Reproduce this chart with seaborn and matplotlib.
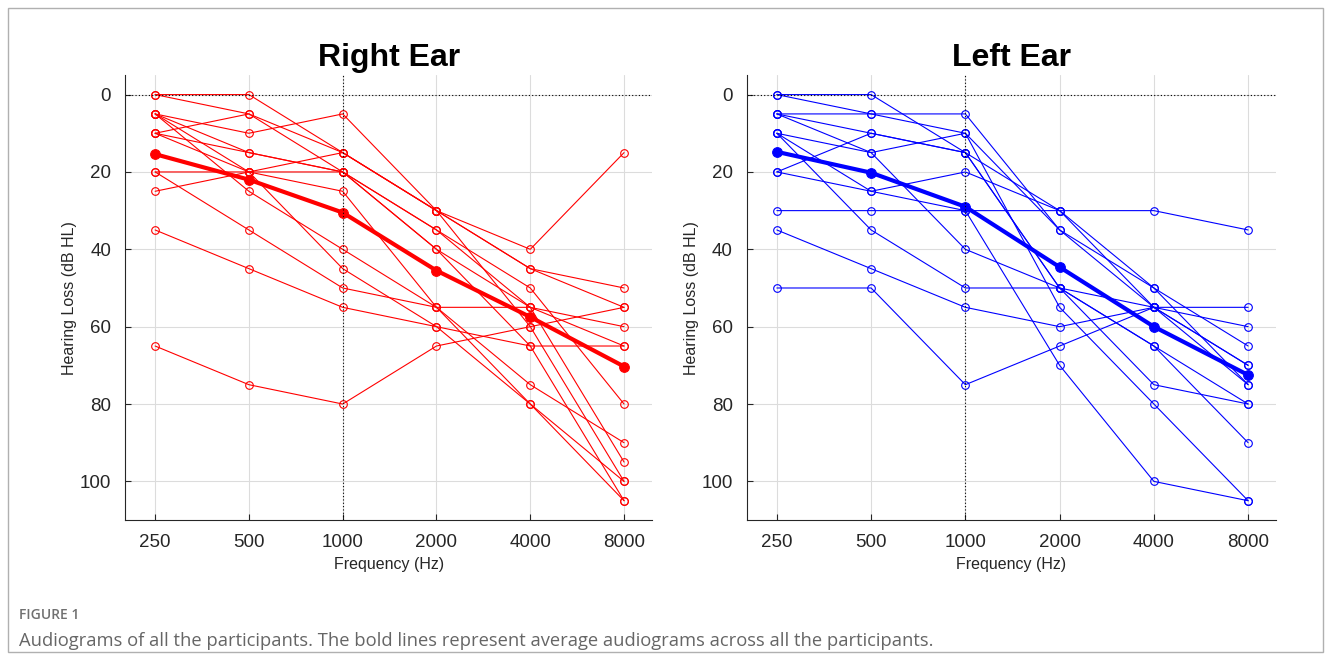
import pandas as pd
import numpy as np
import seaborn as sns
import matplotlib.pyplot as plt
from matplotlib.patches import Rectangle

# frequencies (Hz)
freqs = [250, 500, 1000, 2000, 4000, 8000]
freq_labels = ["250", "500", "1000", "2000", "4000", "8000"]

# individual audiograms, right ear (dB HL)
right_ear = [
    [0, 0, 15, 30, 40, 15],
    [0, 5, 20, 40, 55, 95],
    [5, 10, 5, 30, 45, 50],
    [5, 15, 20, 35, 50, 80],
    [5, 20, 25, 55, 55, 65],
    [5, 25, 40, 55, 75, 90],
    [10, 5, 15, 30, 60, 100],
    [10, 15, 20, 40, 65, 105],
    [10, 20, 45, 60, 65, 65],
    [20, 20, 20, 35, 55, 60],
    [20, 35, 50, 55, 80, 105],
    [25, 20, 15, 30, 45, 55],
    [35, 45, 55, 60, 80, 100],
    [65, 75, 80, 65, 60, 55],
]
right_mean = [15.4, 22.0, 30.5, 45.5, 57.5, 70.3]

# individual audiograms, left ear (dB HL)
left_ear = [
    [0, 0, 15, 50, 65, 80],
    [0, 5, 10, 35, 55, 70],
    [5, 5, 5, 35, 50, 75],
    [5, 10, 15, 30, 55, 60],
    [10, 15, 10, 55, 80, 105],
    [10, 25, 20, 30, 50, 65],
    [20, 10, 15, 50, 55, 70],
    [20, 25, 30, 70, 100, 105],
    [5, 15, 40, 50, 65, 90],
    [30, 30, 30, 30, 30, 35],
    [35, 45, 55, 60, 55, 55],
    [50, 50, 75, 65, 55, 75],
    [10, 35, 50, 50, 75, 80],
]
left_mean = [14.8, 20.2, 29.0, 44.6, 60.0, 72.5]


def long_form(curves):
    rows = []
    for i, c in enumerate(curves):
        for f, v in zip(freqs, c):
            rows.append({"subj": i, "freq": f, "loss": v})
    return pd.DataFrame(rows)


sns.set_theme(style="white")
plt.rcParams["font.family"] = ["Liberation Sans", "DejaVu Sans"]

fig = plt.figure(figsize=(13.31, 6.6), dpi=100)
ax_r = fig.add_axes([0.094, 0.212, 0.396, 0.674])
ax_l = fig.add_axes([0.561, 0.212, 0.398, 0.674])

panels = [(ax_r, right_ear, right_mean, "#ff0000", "Right Ear"),
          (ax_l, left_ear, left_mean, "#0000ff", "Left Ear")]

for ax, curves, mean, col, title in panels:
    df = long_form(curves)
    sns.lineplot(data=df, x="freq", y="loss", units="subj", estimator=None,
                 color=col, lw=0.8, marker="o", ms=5.5, mfc="none", mec=col,
                 mew=0.8, ax=ax, legend=False)
    sns.lineplot(x=freqs, y=mean, color=col, lw=3, marker="o", ms=7,
                 mec=col, ax=ax, legend=False)
    ax.set_xscale("log", base=2)
    ax.set_xlim(250 * 2 ** -0.32, 250 * 2 ** 5.3)
    ax.set_ylim(110, -5)
    ax.set_xticks(freqs)
    ax.set_xticklabels(freq_labels)
    ax.minorticks_off()
    ax.set_yticks([0, 20, 40, 60, 80, 100])
    ax.grid(True, color="#dcdcdc", lw=0.8)
    ax.axhline(0, color="black", ls=(0, (1, 2)), lw=0.8)
    ax.axvline(1000, color="black", ls=(0, (1, 2)), lw=0.8)
    for s in ["top", "right"]:
        ax.spines[s].set_visible(False)
    for s in ["left", "bottom"]:
        ax.spines[s].set_color("#262626")
        ax.spines[s].set_linewidth(0.8)
    ax.tick_params(direction="in", length=4, width=0.8, labelsize=13.5,
                   colors="#262626", pad=10, bottom=True, left=True)
    ax.set_xlabel("Frequency (Hz)", fontsize=11.5, color="#262626", labelpad=4)
    ax.set_ylabel("Hearing Loss (dB HL)", fontsize=11.5, color="#262626", labelpad=2)
    ax.set_title(title, fontsize=23, fontweight="bold", color="black", pad=7)

# frame and caption
fig.patches.append(Rectangle((0.006, 0.012), 0.988, 0.976, transform=fig.transFigure,
                             fill=False, ec="#b0b0b0", lw=1))
fig.text(0.014, 0.062, "FIGURE 1", fontsize=10, color="#707070",
         family=["Open Sans", "DejaVu Sans"], fontweight="semibold")
fig.text(0.014, 0.021, "Audiograms of all the participants. The bold lines represent "
         "average audiograms across all the participants.",
         fontsize=13.2, color="#666666", family=["Open Sans", "DejaVu Sans"])

fig.savefig("out.png", dpi=100)
